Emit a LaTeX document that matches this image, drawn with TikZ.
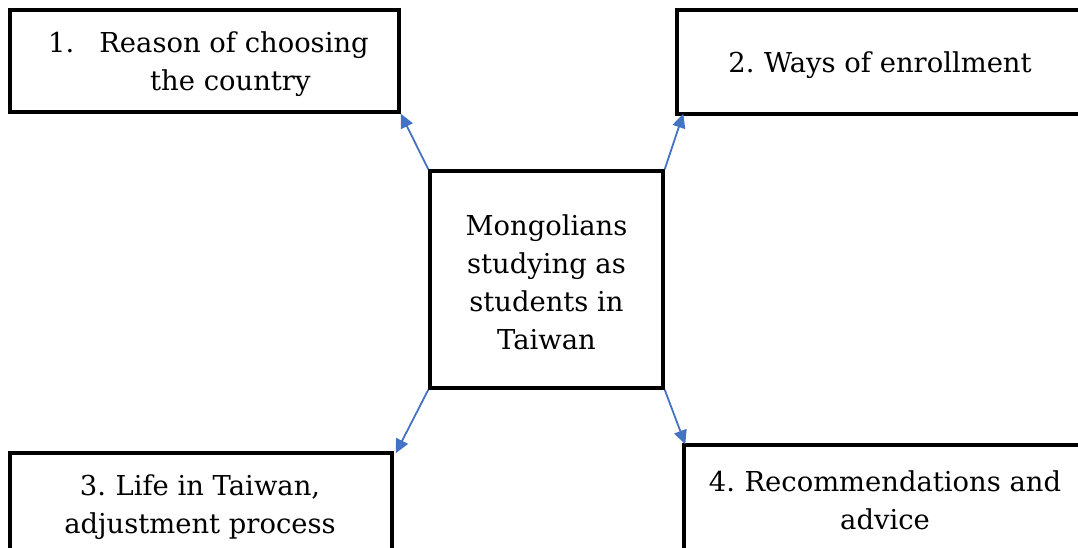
\documentclass[tikz,border=0pt]{standalone}
\usepackage{fontspec}
\setmainfont{DejaVu Serif}
\usetikzlibrary{arrows.meta}
\definecolor{arrblue}{HTML}{4472C4}
\begin{document}
\begin{tikzpicture}[x=1pt,y=-1pt,
  box/.style={draw=black,line width=3.4pt,inner sep=0pt,rectangle},
  lbl/.style={font=\fontsize{27.4}{38}\selectfont,inner sep=0pt,text=black},
  arr/.style={draw=arrblue,line width=1.8pt,-{Triangle[length=14pt,width=13pt]}}]
\useasboundingbox (0,0) rectangle (1078,548);
\clip (0,0) rectangle (1078,548);
\node[box,minimum width=389pt,minimum height=102pt] (b1) at (204.5,61) {};
\node[box,minimum width=408pt,minimum height=104pt] (b2) at (881,62) {};
\node[box,minimum width=233pt,minimum height=217pt] (c) at (546.5,279.5) {};
\node[box,minimum width=382pt,minimum height=157pt] (b3) at (201,531.5) {};
\node[box,minimum width=406pt,minimum height=165pt] (b4) at (887,527.5) {};
\node[lbl,anchor=base west,align=left] (t1) at (48,91) {1.\hspace{25pt}Reason of choosing\\\hspace{102pt}the country};
\node[lbl,anchor=base] (t2) at (880,73) {2.\hspace{-2pt} Ways of enrollment};
\node[lbl,anchor=base,align=center] (t5) at (546.5,349) {Mongolians\\studying as\\students in\\Taiwan};
\node[lbl,anchor=base,align=center] (t3) at (200,533) {3.\hspace{-2pt} Life in Taiwan,\\adjustment process};
\node[lbl,anchor=base,align=center] (t4) at (885,529) {4.\hspace{-2pt} Recommendations and\\advice};
\draw[arr] (c.north west) -- (b1.south east);
\draw[arr] (c.north east) -- ([xshift=8pt,yshift=2pt]b2.south west);
\draw[arr] (c.south west) -- ([xshift=2pt,yshift=-2pt]b3.north east);
\draw[arr] (c.south east) -- ([xshift=3pt,yshift=-1pt]b4.north west);
\end{tikzpicture}
\end{document}
